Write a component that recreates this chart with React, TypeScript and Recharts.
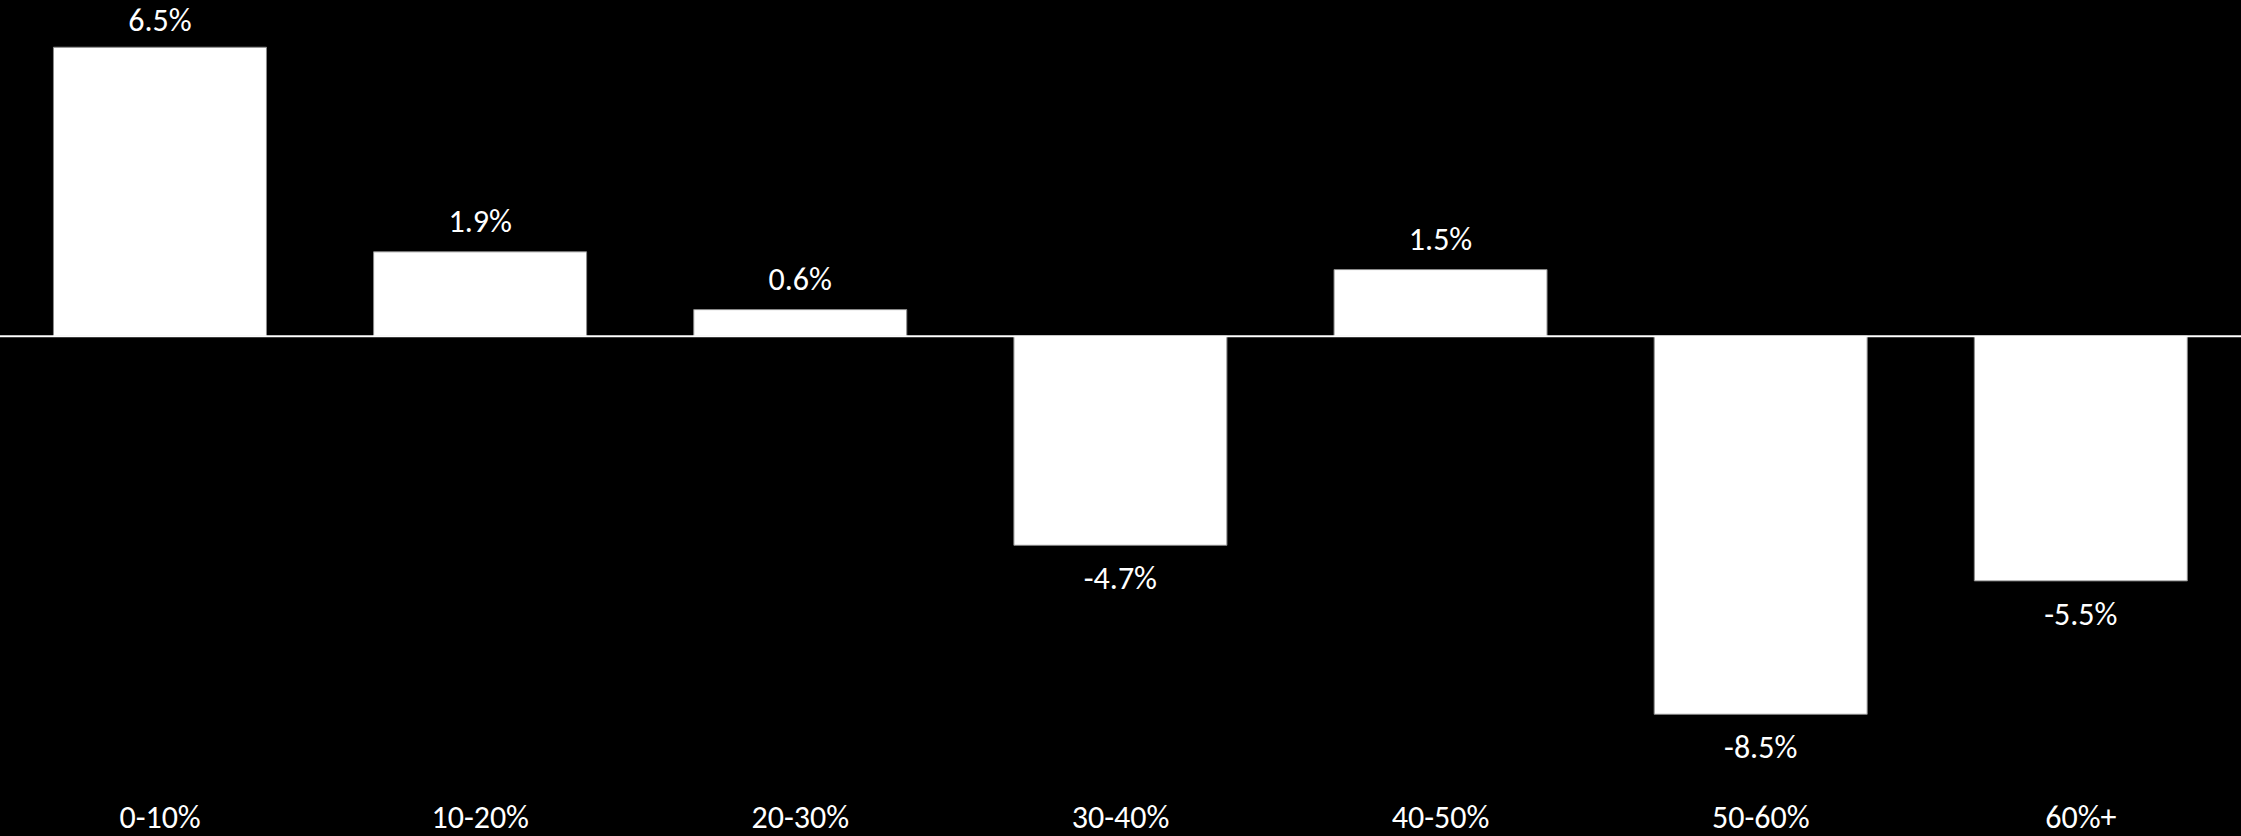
import React from 'react';
import { BarChart, Bar, XAxis, YAxis, ReferenceLine, LabelList } from 'recharts';

const categories = ['0-10%', '10-20%', '20-30%', '30-40%', '40-50%', '50-60%', '60%+'];
const values = [6.5, 1.9, 0.6, -4.7, 1.5, -8.5, -5.5];

const data = categories.map((name, i) => ({ name, value: values[i] }));

const FONT = "Carlito, Calibri, 'Open Sans', sans-serif";

// value label: above positive bars, below negative ones (kept inside the top edge)
const renderValueLabel = (props: any) => {
  const { x, y, width, height, value } = props;
  const top = Math.min(y, y + height);
  const bottom = Math.max(y, y + height);
  const cx = x + width / 2;
  const ty = value >= 0 ? Math.max(top - 20, 31) : bottom + 44;
  return (
    <text x={cx} y={ty} textAnchor="middle" fill="#ffffff" fontSize={32} fontFamily={FONT}>
      {`${Number(value).toFixed(1)}%`}
    </text>
  );
};

const renderTick = (props: any) => {
  const { x, y, payload } = props;
  return (
    <text x={x} y={y} dy={39} textAnchor="middle" fill="#ffffff" fontSize={32} fontFamily={FONT}>
      {payload.value}
    </text>
  );
};

export default function App() {
  return (
    <div style={{ position: 'fixed', left: 0, top: 0, width: 2241, height: 836, background: '#000' }}>
      <BarChart
        width={2241}
        height={836}
        data={data}
        margin={{ top: 25, right: 0, left: 0, bottom: 0 }}
        barCategoryGap="16.7%"
      >
        <XAxis
          dataKey="name"
          axisLine={false}
          tickLine={false}
          height={55}
          tick={renderTick}
          interval={0}
        />
        <YAxis hide domain={[-10, 7]} />
        <Bar dataKey="value" fill="#ffffff" stroke="#8a8a8a" strokeWidth={1} isAnimationActive={false}>
          <LabelList dataKey="value" content={renderValueLabel} />
        </Bar>
        <ReferenceLine y={0} stroke="#ffffff" strokeWidth={2} />
      </BarChart>
    </div>
  );
}
